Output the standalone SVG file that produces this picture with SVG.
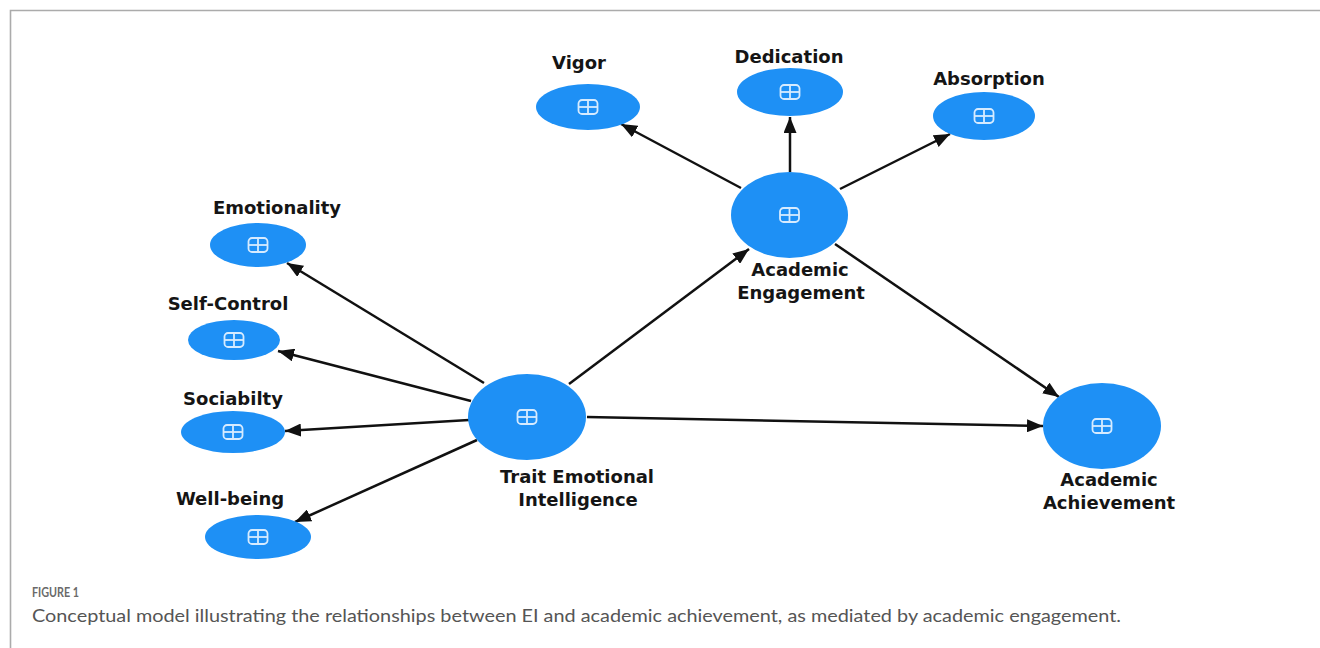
<svg xmlns="http://www.w3.org/2000/svg" xmlns:xlink="http://www.w3.org/1999/xlink" width="1320" height="648" viewBox="0 0 1320 648">
  <style>
    .node { fill: #1e90f5; }
    .lbl { font-family: "DejaVu Sans", "Liberation Sans", sans-serif; font-weight: bold; font-size: 18px; fill: #151515; text-anchor: middle; }
    .edge { stroke: #111; stroke-width: 2.5; fill: none; marker-end: url(#arrow); }
    .icon { fill: none; stroke: #d6ebff; stroke-width: 1.8; }
    .fig { font-family: "Lato", "Liberation Sans", sans-serif; font-weight: bold; font-size: 12.5px; fill: #6a6a6a; }
    .cap { font-family: "Lato", "Liberation Sans", sans-serif; font-size: 17px; fill: #555; }
  </style>
  <defs>
    <marker id="arrow" markerUnits="userSpaceOnUse" markerWidth="17" markerHeight="13" refX="16" refY="6.5" orient="auto">
      <path d="M0,0 L16,6.5 L0,13 Z" fill="#111"/>
    </marker>
    <g id="plus">
      <rect x="-9.5" y="-7" width="19" height="14" rx="3.5" class="icon"/>
      <line x1="0" y1="-7" x2="0" y2="7" class="icon"/>
      <line x1="-9.5" y1="0" x2="9.5" y2="0" class="icon"/>
    </g>
  </defs>

  <rect width="1320" height="648" fill="#fff"/>
  <!-- frame -->
  <path d="M10.5,648 V10.5 H1320" fill="none" stroke="#ababab" stroke-width="1.6"/>

  <!-- connectors -->
  <g id="connectors">
    <line class="edge" x1="741" y1="188" x2="621" y2="124"/>
    <line class="edge" x1="790" y1="172" x2="790" y2="117"/>
    <line class="edge" x1="840" y1="189" x2="950" y2="134"/>
    <line class="edge" x1="835" y1="244" x2="1059" y2="397"/>
    <line class="edge" x1="569" y1="384" x2="749" y2="249"/>
    <line class="edge" x1="587" y1="417" x2="1043" y2="426"/>
    <line class="edge" x1="484" y1="383" x2="287" y2="263"/>
    <line class="edge" x1="471" y1="401" x2="278" y2="351"/>
    <line class="edge" x1="469" y1="420" x2="285" y2="431"/>
    <line class="edge" x1="477" y1="440" x2="295" y2="522"/>
  </g>

  <!-- nodes -->
  <g id="vigor">
    <ellipse class="node" cx="588" cy="107" rx="52" ry="23"/>
    <use xlink:href="#plus" x="588" y="107"/>
    <text class="lbl" x="579" y="69">Vigor</text>
  </g>
  <g id="dedication">
    <ellipse class="node" cx="790" cy="92" rx="53" ry="24"/>
    <use xlink:href="#plus" x="790" y="92"/>
    <text class="lbl" x="789" y="63">Dedication</text>
  </g>
  <g id="absorption">
    <ellipse class="node" cx="984" cy="116" rx="51" ry="24"/>
    <use xlink:href="#plus" x="984" y="116"/>
    <text class="lbl" x="989" y="85">Absorption</text>
  </g>
  <g id="academic-engagement">
    <ellipse class="node" cx="789.5" cy="215" rx="58.5" ry="43"/>
    <use xlink:href="#plus" x="789.5" y="215"/>
    <text class="lbl" x="800" y="276">Academic</text>
    <text class="lbl" x="801" y="299">Engagement</text>
  </g>
  <g id="emotionality">
    <ellipse class="node" cx="258" cy="245" rx="48" ry="22"/>
    <use xlink:href="#plus" x="258" y="245"/>
    <text class="lbl" x="277" y="214">Emotionality</text>
  </g>
  <g id="self-control">
    <ellipse class="node" cx="234" cy="340" rx="46" ry="20"/>
    <use xlink:href="#plus" x="234" y="340"/>
    <text class="lbl" x="228" y="310">Self-Control</text>
  </g>
  <g id="sociabilty">
    <ellipse class="node" cx="233" cy="432" rx="52" ry="21"/>
    <use xlink:href="#plus" x="233" y="432"/>
    <text class="lbl" x="233" y="405">Sociabilty</text>
  </g>
  <g id="well-being">
    <ellipse class="node" cx="258" cy="537" rx="53" ry="22"/>
    <use xlink:href="#plus" x="258" y="537"/>
    <text class="lbl" x="230" y="505">Well-being</text>
  </g>
  <g id="trait-ei">
    <ellipse class="node" cx="527" cy="417" rx="59" ry="43"/>
    <use xlink:href="#plus" x="527" y="417"/>
    <text class="lbl" x="577" y="483">Trait Emotional</text>
    <text class="lbl" x="578" y="506">Intelligence</text>
  </g>
  <g id="academic-achievement">
    <ellipse class="node" cx="1102" cy="426" rx="59" ry="43"/>
    <use xlink:href="#plus" x="1102" y="426"/>
    <text class="lbl" x="1109" y="486">Academic</text>
    <text class="lbl" x="1109" y="509">Achievement</text>
  </g>

  <!-- caption -->
  <text class="fig" x="32" y="597" textLength="47" lengthAdjust="spacingAndGlyphs">FIGURE 1</text>
  <text class="cap" x="32" y="622" textLength="1089" lengthAdjust="spacingAndGlyphs">Conceptual model illustrating the relationships between EI and academic achievement, as mediated by academic engagement.</text>
</svg>
